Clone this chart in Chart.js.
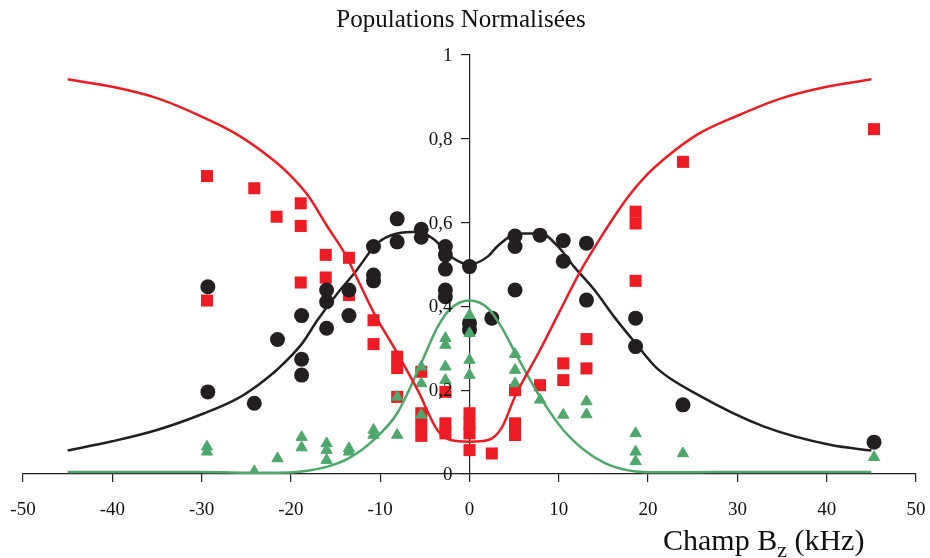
<!DOCTYPE html>
<html>
<head>
<meta charset="utf-8">
<script src="https://cdn.jsdelivr.net/npm/chart.js@4/dist/chart.umd.min.js"></script>
<style>
  body { margin: 0; background: #fff; }
  #wrap { width: 930px; height: 558px; }
</style>
</head>
<body>
<div id="wrap"><canvas id="chart"></canvas></div>
<script>
// points mesurés (champ en kHz, population)
const redX = [-29.4, -29.4, -24.1, -21.6, -18.9, -18.9, -18.9, -16.1, -16.1, -13.5, -13.5, -10.75, -10.75,
  -8.1, -8.1, -8.1, -5.4, -5.4, -5.4, -5.4, -2.7, -2.7, -2.7, 0, 0, 0, 0, 2.5, 5.1, 5.1, 5.1, 7.9,
  10.5, 10.5, 13.1, 13.1, 18.6, 18.6, 18.6, 23.9, 45.3];
const redY = [0.711, 0.414, 0.682, 0.614, 0.646, 0.592, 0.457, 0.523, 0.469, 0.516, 0.427, 0.367, 0.31,
  0.28, 0.253, 0.184, 0.244, 0.145, 0.117, 0.091, 0.196, 0.121, 0.097, 0.145, 0.12, 0.097, 0.057, 0.049, 0.2, 0.121, 0.093, 0.212,
  0.264, 0.224, 0.322, 0.252, 0.626, 0.598, 0.461, 0.745, 0.823];

const blackX = [-29.3, -29.3, -24.1, -21.5, -18.8, -18.8, -18.8, -16, -16, -16, -13.5, -13.5, -10.75, -10.75, -10.75,
  -8.1, -8.1, -5.4, -5.4, -2.7, -2.7, -2.7, -2.7, -2.7, 0, 0, 0, 2.5, 5.1, 5.1, 5.1, 7.9, 10.5, 10.5,
  13.1, 13.1, 18.6, 18.6, 23.9, 45.3];
const blackY = [0.447, 0.196, 0.169, 0.321, 0.378, 0.274, 0.236, 0.439, 0.411, 0.348, 0.439, 0.378, 0.543, 0.475, 0.461,
  0.609, 0.554, 0.584, 0.565, 0.543, 0.523, 0.489, 0.439, 0.423, 0.495, 0.36, 0.344, 0.372, 0.568, 0.543, 0.439, 0.57, 0.557, 0.508,
  0.551, 0.415, 0.372, 0.304, 0.165, 0.076];

const greenX = [-29.4, -29.4, -24.1, -21.5, -18.8, -18.8, -16, -16, -16, -13.5, -13.5, -10.75, -10.75, -8.1, -8.1,
  -5.4, -5.4, -5.4, -2.7, -2.7, -2.7, -2.7, 0, 0, 0, 0, 5.1, 5.1, 5.1, 7.9, 10.5, 13.1, 13.1,
  18.6, 18.6, 18.6, 23.9, 45.3];
const greenY = [0.065, 0.053, 0.006, 0.037, 0.088, 0.063, 0.073, 0.057, 0.033, 0.061, 0.053, 0.105, 0.093, 0.184, 0.093,
  0.256, 0.216, 0.141, 0.324, 0.308, 0.256, 0.224, 0.379, 0.336, 0.272, 0.236, 0.286, 0.248, 0.216, 0.177, 0.141, 0.173, 0.142,
  0.097, 0.053, 0.03, 0.049, 0.04];

// courbes théoriques
const redFitX = [-45, -40, -35, -30, -26, -22.3, -20.4, -18.1, -15.9, -14, -12.5, -10.7, -8.1, -5.8, -3.6, -2.1, 0,
  2.1, 3.6, 5.1, 7.9, 10, 12.5, 14.3, 16.2, 17.7, 19.9, 21.8, 25.5, 30, 35, 40, 45];
const redFit = [0.942, 0.924, 0.897, 0.853, 0.81, 0.755, 0.72, 0.665, 0.59, 0.527, 0.463, 0.384, 0.289, 0.2, 0.105, 0.081, 0.077,
  0.081, 0.11, 0.185, 0.296, 0.384, 0.487, 0.551, 0.614, 0.66, 0.715, 0.752, 0.81, 0.855, 0.897, 0.924, 0.942];

const blackFitX = [-45, -40, -35, -29.7, -26, -23.7, -21.5, -18.8, -17, -14.8, -12.9, -10.3, -8.1, -5.8, -4, -2.1, 0,
  2.1, 3.1, 5.4, 8, 9.9, 11.7, 14, 16.2, 18.6, 21, 25.5, 33, 40.5, 45];
const blackFit = [0.056, 0.078, 0.105, 0.145, 0.18, 0.212, 0.25, 0.31, 0.368, 0.431, 0.479, 0.551, 0.574, 0.578, 0.56, 0.519, 0.5,
  0.52, 0.543, 0.574, 0.574, 0.543, 0.495, 0.439, 0.375, 0.312, 0.252, 0.19, 0.113, 0.069, 0.056];

const greenFitX = [-45, -35, -30, -25, -21.5, -18.8, -16, -13.5, -10.75, -8.1, -5.4, -3.6, -2.1, 0,
  2.1, 3.6, 5.1, 7.9, 10.5, 13.1, 15.7, 18.6, 21, 25, 30, 35, 45];
const greenFit = [0.005, 0.005, 0.005, 0.003, 0.003, 0.006, 0.017, 0.038, 0.081, 0.145, 0.265, 0.35, 0.395, 0.414,
  0.395, 0.35, 0.29, 0.184, 0.105, 0.053, 0.021, 0.006, 0.004, 0.004, 0.005, 0.005, 0.005];

const xTicks = [-50, -40, -30, -20, -10, 0, 10, 20, 30, 40, 50];

const RED = 'rgb(237, 28, 36)';
const BLACK = 'rgb(35, 31, 32)';
const GREEN = 'rgb(78, 168, 108)';
const SERIF = '"Liberation Serif", "DejaVu Serif", serif';

function pts(xs, ys) {
  return xs.map((x, i) => ({ x: x, y: ys[i] }));
}

function lineSet(xs, ys, color) {
  return {
    type: 'line',
    data: pts(xs, ys),
    borderColor: color,
    borderWidth: 2.5,
    pointRadius: 0,
    cubicInterpolationMode: 'monotone',
    fill: false
  };
}

function yLabel(v) {
  return (v === 0 || v === 1) ? String(v) : v.toFixed(1).replace('.', ',');
}

// titres + étiquettes de l'axe y (l'axe est centré, on les place nous-mêmes à gauche)
const titles = {
  id: 'titles',
  afterDraw(chart) {
    const ctx = chart.ctx;
    const ys = chart.scales.y;
    const x0 = chart.scales.x.getPixelForValue(0);
    ctx.save();
    ctx.fillStyle = '#111';

    ctx.font = '19px ' + SERIF;
    ctx.textAlign = 'right';
    ctx.textBaseline = 'middle';
    ys.ticks.forEach(t => {
      ctx.fillText(yLabel(t.value), x0 - 17, ys.getPixelForValue(t.value) + 1);
    });

    ctx.textBaseline = 'alphabetic';
    ctx.font = '25px ' + SERIF;
    ctx.textAlign = 'center';
    ctx.fillText('Populations Normalisées', 461, 27);

    ctx.textAlign = 'left';
    let x = 663;
    const y = 550;
    ctx.font = '30px ' + SERIF;
    ctx.fillText('Champ B', x, y);
    x += ctx.measureText('Champ B').width;
    ctx.font = '22px ' + SERIF;
    ctx.fillText('z', x, y + 7);
    x += ctx.measureText('z').width;
    ctx.font = '30px ' + SERIF;
    ctx.fillText(' (kHz)', x, y);
    ctx.restore();
  }
};

new Chart(document.getElementById('chart'), {
  type: 'scatter',
  data: {
    datasets: [
      lineSet(redFitX, redFit, RED),
      lineSet(blackFitX, blackFit, BLACK),
      lineSet(greenFitX, greenFit, GREEN),
      {
        data: pts(greenX, greenY),
        pointStyle: 'triangle',
        pointRadius: 6.5,
        backgroundColor: GREEN,
        borderColor: GREEN,
        borderWidth: 1
      },
      {
        data: pts(blackX, blackY),
        pointStyle: 'circle',
        pointRadius: 7.5,
        backgroundColor: BLACK,
        borderColor: BLACK,
        borderWidth: 0
      },
      {
        data: pts(redX, redY),
        pointStyle: 'rect',
        pointRadius: 8.5,
        backgroundColor: RED,
        borderColor: RED,
        borderWidth: 0
      }
    ]
  },
  options: {
    responsive: true,
    maintainAspectRatio: false,
    animation: false,
    layout: { padding: { top: 55, left: 23, right: 14, bottom: 0 } },
    plugins: {
      legend: { display: false },
      tooltip: { enabled: false },
      title: { display: false }
    },
    scales: {
      x: {
        type: 'linear',
        min: -50,
        max: 50,
        afterBuildTicks: (scale) => { scale.ticks = xTicks.map(v => ({ value: v })); },
        afterFit: (scale) => {
          scale.height = 84;
          // pas de marge latérale pour les étiquettes : la zone reste fixée par layout.padding
          scale.paddingLeft = 0;
          scale.paddingRight = 0;
        },
        grid: { display: true, drawOnChartArea: false, drawTicks: true, tickLength: 8, color: BLACK, lineWidth: 1.2 },
        border: { display: true, color: BLACK, width: 1.2 },
        ticks: {
          color: '#111',
          padding: 17,
          font: { family: SERIF, size: 19 },
          callback: (v) => String(v)
        }
      },
      y: {
        type: 'linear',
        min: 0,
        max: 1,
        position: { x: 0 },
        grid: { display: true, drawOnChartArea: false, drawTicks: true, tickLength: 8, color: BLACK, lineWidth: 1.2 },
        border: { display: true, color: BLACK, width: 1.2 },
        ticks: {
          stepSize: 0.2,
          display: false
        }
      }
    }
  },
  plugins: [titles]
});
</script>
</body>
</html>
